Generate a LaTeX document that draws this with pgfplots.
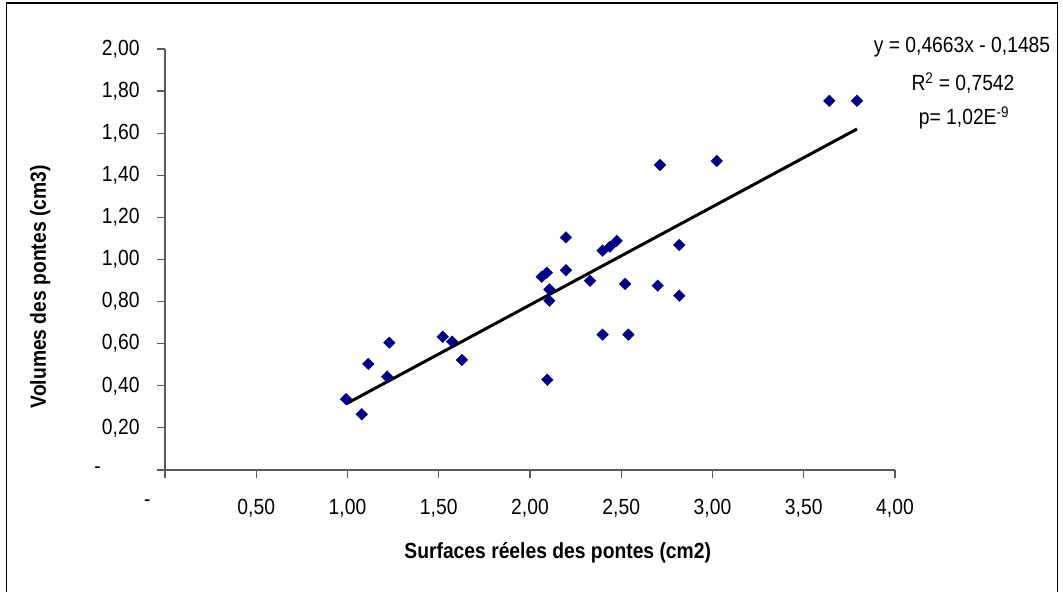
\documentclass[border=0pt]{standalone}
\usepackage{pgfplots}
\pgfplotsset{compat=1.18}
\usepackage{fontspec}
\setmainfont{Liberation Sans}[FakeStretch=0.88]
\definecolor{navy}{RGB}{0,0,128}
\definecolor{axgray}{RGB}{90,90,90}
\begin{document}
\begin{tikzpicture}[x=1bp,y=1bp]
\useasboundingbox (0,0) rectangle (1063,592);
\draw[line width=1.6bp] (6.5,-2) rectangle (1057.5,589);
\begin{axis}[
  at={(165bp,122bp)}, anchor=south west,
  scale only axis, width=730bp, height=421bp,
  xmin=0, xmax=4, ymin=0, ymax=2,
  axis x line=bottom, axis y line=left,
  axis line style={axgray, line width=1.2bp, -},
  every tick/.style={axgray, line width=1.2bp},
  tick align=outside, major tick length=8bp,
  xtick={0,0.5,...,4}, ytick={0,0.2,...,2},
  xticklabels={{\makebox[42bp][l]{-}},{0,50},{1,00},{1,50},{2,00},{2,50},{3,00},{3,50},{4,00}},
  yticklabels={{\makebox[45bp][l]{-}},{0,20},{0,40},{0,60},{0,80},{1,00},{1,20},{1,40},{1,60},{1,80},{2,00}},
  ticklabel style={font=\fontsize{22}{25}\selectfont},
  yticklabel style={anchor=east, xshift=-14bp},
  xticklabel style={yshift=-18bp},
  xlabel={\bfseries Surfaces réeles des pontes (cm2)},
  ylabel={\bfseries Volumes des pontes (cm3)},
  label style={font=\fontsize{22}{25}\selectfont},
  xlabel style={at={(axis description cs:0.538,-0.197)}, anchor=center},
  ylabel style={at={(axis description cs:-0.171,0.435)}, anchor=center, rotate=0},
  clip=false,
]
\addplot[only marks, mark=square*, mark size=4.1bp, mark options={rotate=45, fill=navy, draw=navy}] table {
x y
0.992 0.337
1.078 0.265
1.114 0.504
1.229 0.605
1.218 0.443
1.522 0.633
1.573 0.610
1.627 0.523
2.095 0.429
2.064 0.918
2.092 0.937
2.106 0.858
2.106 0.804
2.197 1.105
2.197 0.949
2.329 0.899
2.398 1.042
2.438 1.061
2.475 1.088
2.521 0.884
2.398 0.643
2.539 0.643
2.712 1.449
2.818 1.069
2.818 0.828
2.700 0.876
3.023 1.468
3.640 1.754
3.792 1.754
};
\addplot[black, line width=3bp] coordinates {(0.992,0.314) (3.792,1.620)};
\end{axis}
\node[font=\fontsize{22}{25}\selectfont] at (962,545) {y = 0,4663x - 0,1485};
\node[font=\fontsize{22}{25}\selectfont] at (963,509) {R\textsuperscript{2} = 0,7542};
\node[font=\fontsize{22}{25}\selectfont] at (964,474) {p= 1,02E\textsuperscript{-9}};
\end{tikzpicture}
\end{document}
